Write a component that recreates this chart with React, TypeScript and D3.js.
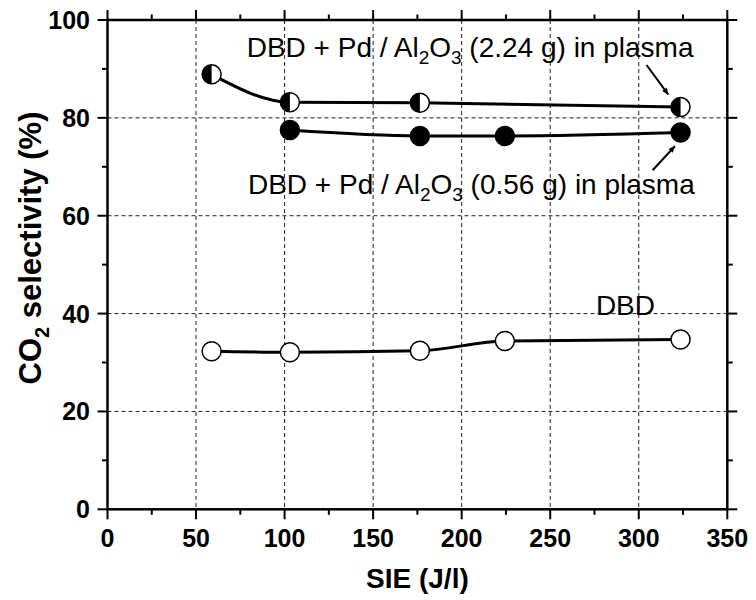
import React from "react";
import * as d3 from "d3";

const xTicks = [0, 50, 100, 150, 200, 250, 300, 350];
const yTicks = [0, 20, 40, 60, 80, 100];
const xMinor = [25, 75, 125, 175, 225, 275, 325];
const yMinor = [10, 30, 50, 70, 90];

const dbdX = [58.8, 103, 176.4, 224.4, 323.6];
const dbdY = [32.3, 32.1, 32.4, 34.4, 34.7];
const pd224X = [58.8, 103, 176.4, 323.6];
const pd224Y = [88.9, 83.2, 83.1, 82.2];
const pd056X = [103, 176.4, 224.4, 323.6];
const pd056Y = [77.5, 76.3, 76.3, 77.0];

const W = 756;
const H = 600;
const L = 107.5, R = 727.3, T = 20, B = 509.3;

export default function App() {
  const x = d3.scaleLinear().domain([0, 350]).range([L, R]);
  const y = d3.scaleLinear().domain([0, 100]).range([B, T]);
  const line = d3
    .line<[number, number]>()
    .x((d) => x(d[0]))
    .y((d) => y(d[1]))
    .curve(d3.curveMonotoneX);
  const zip = (a: number[], b: number[]) => a.map((v, i) => [v, b[i]] as [number, number]);
  const r = 9.5;
  const halfPath = (cx: number, cy: number) =>
    `M${cx},${cy - r} A${r},${r} 0 0,0 ${cx},${cy + r} Z`;
  const font = "'Liberation Sans', Arial, Helvetica, sans-serif";
  const majT = 10, minT = 5.5;

  const arrows = [
    { x1: 304.4, y1: 90.8, x2: 316.6, y2: 84.8 },
    { x1: 307.8, y1: 69.3, x2: 320.4, y2: 74.2 },
  ];
  const af = 28;
  const sf = 19;

  return (
    <svg width={W} height={H} style={{ position: "absolute", left: 0, top: 0, background: "#fff" }} fontFamily={font}>
      <defs>
        <marker id="ah" viewBox="0 0 10 10" refX="9" refY="5" markerWidth="9" markerHeight="7" orient="auto" markerUnits="userSpaceOnUse">
          <path d="M0,1 L10,5 L0,9 Z" fill="#000" />
        </marker>
      </defs>
      {xTicks.filter((t) => t > 0 && t < 350).map((t) => (
        <line key={"gx" + t} x1={x(t)} x2={x(t)} y1={T} y2={B} stroke="#222" strokeWidth={1} strokeDasharray="4,3" />
      ))}
      {yTicks.filter((t) => t > 0 && t < 100).map((t) => (
        <line key={"gy" + t} x1={L} x2={R} y1={y(t)} y2={y(t)} stroke="#222" strokeWidth={1} strokeDasharray="4,3" />
      ))}
      {xTicks.map((t) => (
        <g key={"tx" + t}>
          <line x1={x(t)} x2={x(t)} y1={B} y2={B + majT} stroke="#000" strokeWidth={2} />
          <line x1={x(t)} x2={x(t)} y1={T} y2={T - majT} stroke="#000" strokeWidth={2} />
          <text x={x(t)} y={547} textAnchor="middle" fontSize={25} fontWeight="bold">{t}</text>
        </g>
      ))}
      {xMinor.map((t) => (
        <g key={"mx" + t}>
          <line x1={x(t)} x2={x(t)} y1={B} y2={B + minT} stroke="#000" strokeWidth={2} />
          <line x1={x(t)} x2={x(t)} y1={T} y2={T - minT} stroke="#000" strokeWidth={2} />
        </g>
      ))}
      {yTicks.map((t) => (
        <g key={"ty" + t}>
          <line x1={L} x2={L - majT} y1={y(t)} y2={y(t)} stroke="#000" strokeWidth={2} />
          <line x1={R} x2={R + majT} y1={y(t)} y2={y(t)} stroke="#000" strokeWidth={2} />
          <text x={90} y={y(t) + 9} textAnchor="end" fontSize={25} fontWeight="bold">{t}</text>
        </g>
      ))}
      {yMinor.map((t) => (
        <g key={"my" + t}>
          <line x1={L} x2={L - minT} y1={y(t)} y2={y(t)} stroke="#000" strokeWidth={2} />
          <line x1={R} x2={R + minT} y1={y(t)} y2={y(t)} stroke="#000" strokeWidth={2} />
        </g>
      ))}
      <rect x={L} y={T} width={R - L} height={B - T} fill="none" stroke="#000" strokeWidth={2.5} />
      <path d={line(zip(dbdX, dbdY)) || ""} fill="none" stroke="#000" strokeWidth={3} />
      <path d={line(zip(pd224X, pd224Y)) || ""} fill="none" stroke="#000" strokeWidth={3} />
      <path d={line(zip(pd056X, pd056Y)) || ""} fill="none" stroke="#000" strokeWidth={3} />
      {dbdX.map((v, i) => (
        <circle key={"d" + i} cx={x(v)} cy={y(dbdY[i])} r={r} fill="#fff" stroke="#000" strokeWidth={1.5} />
      ))}
      {pd056X.map((v, i) => (
        <circle key={"f" + i} cx={x(v)} cy={y(pd056Y[i])} r={r} fill="#000" stroke="#000" strokeWidth={1.5} />
      ))}
      {pd224X.map((v, i) => (
        <g key={"h" + i}>
          <circle cx={x(v)} cy={y(pd224Y[i])} r={r} fill="#fff" stroke="#000" strokeWidth={1.5} />
          <path d={halfPath(x(v), y(pd224Y[i]))} fill="#000" />
        </g>
      ))}
      {arrows.map((a, i) => (
        <line key={"a" + i} x1={x(a.x1)} y1={y(a.y1)} x2={x(a.x2)} y2={y(a.y2)} stroke="#000" strokeWidth={2} markerEnd="url(#ah)" />
      ))}
      <text x={x(78.6)} y={y(92.4)} fontSize={af}>
        DBD + Pd / Al<tspan fontSize={sf} dy={7}>2</tspan><tspan dy={-7}>O</tspan><tspan fontSize={sf} dy={7}>3</tspan><tspan dy={-7}> (2.24 g) in plasma</tspan>
      </text>
      <text x={x(79.3)} y={y(64.4)} fontSize={af}>
        DBD + Pd / Al<tspan fontSize={sf} dy={7}>2</tspan><tspan dy={-7}>O</tspan><tspan fontSize={sf} dy={7}>3</tspan><tspan dy={-7}> (0.56 g) in plasma</tspan>
      </text>
      <text x={x(275.8)} y={y(39.7)} fontSize={af}>DBD</text>
      <text x={(L + R) / 2} y={588} textAnchor="middle" fontSize={28} fontWeight="bold">SIE (J/l)</text>
      <text transform={`translate(41,248) rotate(-90)`} textAnchor="middle" fontSize={31} fontWeight="bold">
        CO<tspan fontSize={20} dy={8}>2</tspan><tspan dy={-8}> selectivity (%)</tspan>
      </text>
    </svg>
  );
}
